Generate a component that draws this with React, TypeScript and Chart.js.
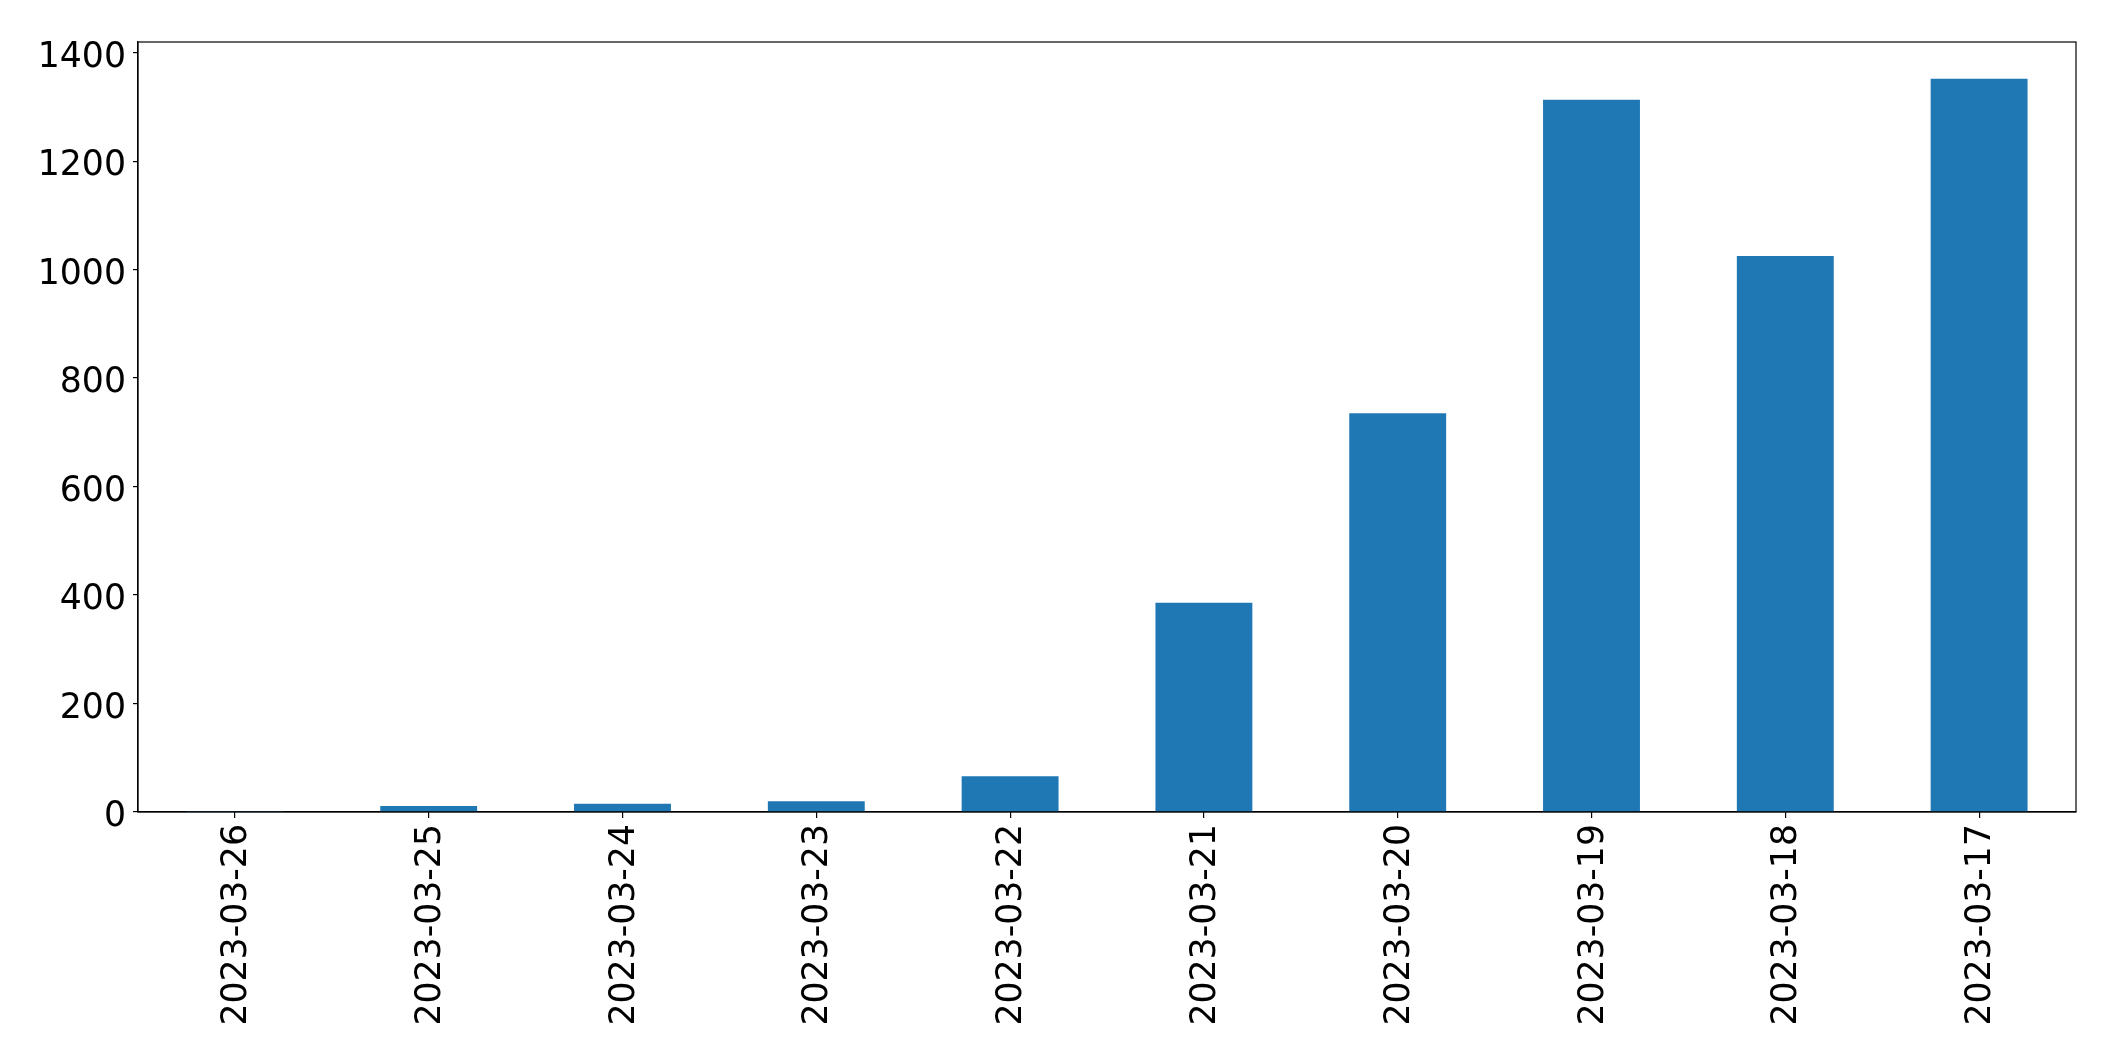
import React, { useEffect, useRef } from "react";
import { Chart, registerables } from "chart.js";

Chart.register(...registerables);

const categories = [
  "2023-03-26",
  "2023-03-25",
  "2023-03-24",
  "2023-03-23",
  "2023-03-22",
  "2023-03-21",
  "2023-03-20",
  "2023-03-19",
  "2023-03-18",
  "2023-03-17",
];
const counts = [2, 11, 15, 20, 66, 386, 735, 1313, 1025, 1352];
const yTicks = [0, 200, 400, 600, 800, 1000, 1200, 1400];
const yMax = 1419.6;

const W = 2115;
const H = 1064;

const frame = {
  id: "frame",
  afterDatasetsDraw(chart: any) {
    const { ctx, chartArea: a } = chart;
    ctx.save();
    ctx.strokeStyle = "#000";
    ctx.lineWidth = 1.2;
    ctx.strokeRect(a.left, a.top, a.right - a.left, a.bottom - a.top);
    ctx.restore();
  },
};

export default function App() {
  const ref = useRef<HTMLCanvasElement | null>(null);
  useEffect(() => {
    if (!ref.current) return;
    const font = { family: "'DejaVu Sans'", size: 34.7 };
    const chart = new Chart(ref.current, {
      type: "bar",
      data: {
        labels: categories,
        datasets: [
          {
            data: counts,
            backgroundColor: "#1f77b4",
            borderWidth: 0,
            categoryPercentage: 1,
            barPercentage: 0.5,
          },
        ],
      },
      options: {
        animation: false,
        responsive: false,
        devicePixelRatio: 1,
        layout: { padding: { top: 42, right: 39, bottom: 0, left: 0 } },
        plugins: { legend: { display: false }, tooltip: { enabled: false } },
        scales: {
          x: {
            offset: true,
            grid: {
              display: true,
              offset: false,
              drawOnChartArea: false,
              drawTicks: true,
              tickLength: 6,
              color: "#000",
              lineWidth: 1.2,
            },
            border: { display: true, color: "#000", width: 1.2 },
            ticks: {
              color: "#000",
              font,
              minRotation: 90,
              maxRotation: 90,
              autoSkip: false,
              padding: 6,
              labelOffset: 2,
            },
            afterFit(scale: any) {
              scale.height = 252;
            },
          },
          y: {
            min: 0,
            max: yMax,
            grid: {
              display: true,
              drawOnChartArea: false,
              drawTicks: true,
              tickLength: 5,
              color: "#000",
              lineWidth: 1.2,
            },
            border: { display: true, color: "#000", width: 1.2 },
            ticks: {
              color: "#000",
              font,
              padding: 7,
              labelOffset: 5,
              callback: (v: any) => String(v),
            },
            afterBuildTicks(scale: any) {
              scale.ticks = yTicks.map((v) => ({ value: v }));
            },
            afterFit(scale: any) {
              scale.width = 138;
            },
          },
        },
      },
      plugins: [frame],
    });
    return () => chart.destroy();
  }, []);
  return (
    <div style={{ position: "fixed", left: 0, top: 0, width: W, height: H, background: "#fff" }}>
      <canvas ref={ref} width={W} height={H} style={{ width: W, height: H, display: "block" }} />
    </div>
  );
}
